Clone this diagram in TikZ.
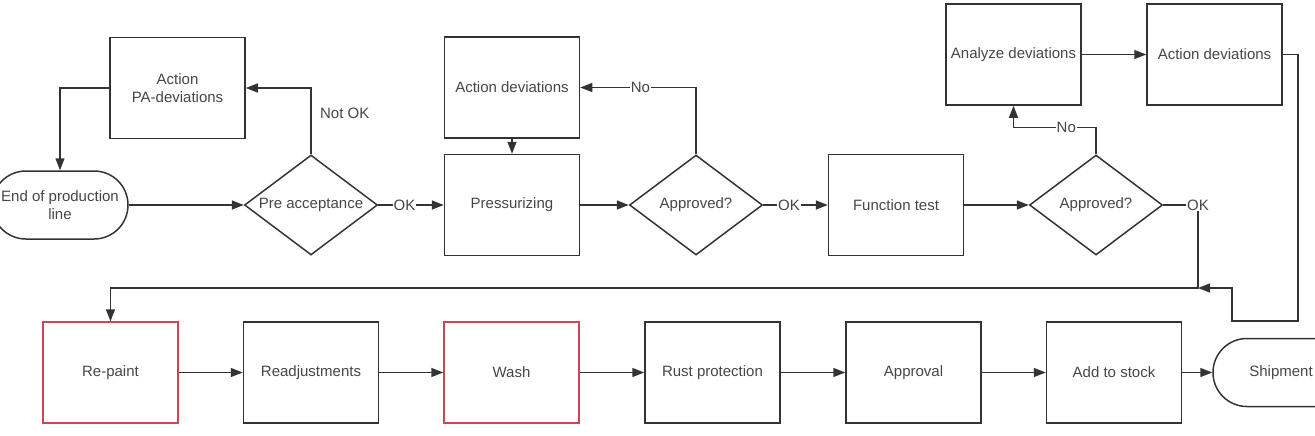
\documentclass[tikz,border=0pt]{standalone}
\usepackage{fontspec}
\setmainfont{Liberation Sans}
\usetikzlibrary{shapes.geometric,arrows.meta,calc}
\definecolor{linegray}{RGB}{51,51,51}
\definecolor{textgray}{RGB}{70,70,70}
\definecolor{paintred}{RGB}{204,70,84}
\newcommand{\labelfont}{\fontsize{15}{18}\selectfont}
\tikzset{box/.style={draw=#1,line width=1.5pt,minimum width=135pt,minimum height=101pt,inner sep=0pt,text=textgray,font=\labelfont,align=center},box/.default=linegray}
\tikzset{decision/.style={box,diamond,aspect=1.33,minimum width=133pt,minimum height=100pt}}
\tikzset{terminal/.style={box,rounded corners=33.9pt,minimum width=136pt,minimum height=68pt}}
\tikzset{flow/.style={draw=linegray,line width=1.5pt,-{Triangle[length=12pt,width=9pt]}}}
\tikzset{flowlabel/.style={fill=white,inner sep=1pt,text=textgray,font=\labelfont}}

\begin{document}
\begin{tikzpicture}[x=1pt,y=-1pt]
	\useasboundingbox (0,0) rectangle (1315,436);
	\clip (0,0) rectangle (1315,436);

	% top row
	\node [terminal] (EOL) at (60,205) {End of production\\line};
	\node [box] (PA) at (177.5,88) {Action\\PA-deviations};
	\node [decision] (PRE) at (311,205) {Pre acceptance};
	\node [box] (AD) at (512,87.5) {Action deviations};
	\node [box] (PRES) at (512,205) {Pressurizing};
	\node [decision] (APP1) at (696,205) {Approved?};
	\node [box] (FT) at (896,205) {Function test};
	\node [decision] (APP2) at (1096,205) {Approved?};
	\node [box] (AN) at (1013.5,54.5) {Analyze deviations};
	\node [box] (AD2) at (1214.5,54.5) {Action deviations};

	% bottom row
	\node [box=paintred] (RP) at (110.5,372.5) {Re-paint};
	\node [box] (RA) at (311,372.5) {Readjustments};
	\node [box=paintred] (WA) at (511.5,372.5) {Wash};
	\node [box] (RUST) at (712.5,372.5) {Rust protection};
	\node [box] (APPR) at (913.5,372.5) {Approval};
	\node [box] (STOCK) at (1114,372.5) {Add to stock};
	\node [terminal] (SHIP) at (1281,372.5) {Shipment};

	\coordinate (J) at (1198,288);

	\draw [flow] (EOL) -- (PRE);
	\draw [flow] (PRE.north) |- node [pos=0.31,right,text=textgray,font=\labelfont,xshift=5pt] {Not OK} (PA.east);
	\draw [flow] (PA.west) -| (EOL.north);
	\draw [flow] (PRE) -- node [flowlabel,pos=0.4] {OK} (PRES);
	\draw [flow] (AD) -- (PRES);
	\draw [flow] (PRES) -- (APP1);
	\draw [flow] (APP1.north) |- node [flowlabel,pos=0.74] {No} (AD.east);
	\draw [flow] (APP1) -- node [flowlabel,pos=0.4] {OK} (FT);
	\draw [flow] (FT) -- (APP2);
	\draw [flow] (APP2.north) -- ++(0,-27) -| node [flowlabel,pos=0.18] {No} (AN.south);
	\draw [flow] (AN) -- (AD2);
	\draw [flow] (APP2.east) -| node [flowlabel,pos=0.5] {OK} (J) -| (RP.north);
	\draw [flow] (AD2.east) -| (1298,321) -| (1232,288) -- (J);

	\foreach \a/\b in {RP/RA,RA/WA,WA/RUST,RUST/APPR,APPR/STOCK,STOCK/SHIP}
		\draw [flow] (\a) -- (\b);
\end{tikzpicture}
\end{document}
